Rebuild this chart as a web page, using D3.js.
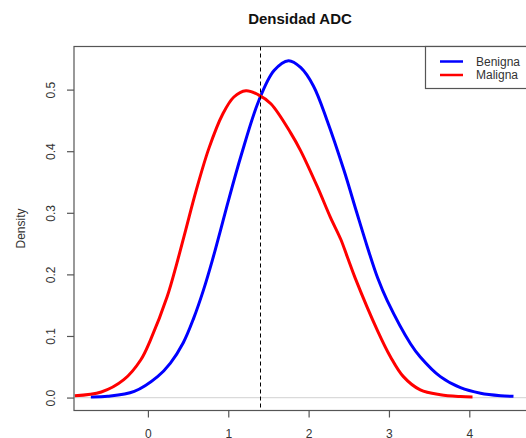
<!DOCTYPE html>
<html>
<head>
<meta charset="utf-8">
<script src="https://cdn.jsdelivr.net/npm/d3@7"></script>
<style>
  html, body { margin: 0; padding: 0; background: #fff; }
  svg { display: block; font-family: "Liberation Sans", Arial, sans-serif; }
</style>
</head>
<body>
<svg id="chart" width="526" height="438"></svg>
<script>
// ---- data ----
const title = "Densidad ADC";
const yLabel = "Density";
const seriesNames = ["Benigna", "Maligna"];
const seriesColors = ["#0000ff", "#ff0000"];
const xTicks = [0, 1, 2, 3, 4];
const yTicks = [0.0, 0.1, 0.2, 0.3, 0.4, 0.5];
const yTickLabels = ["0.0", "0.1", "0.2", "0.3", "0.4", "0.5"];
const cutoff = 1.395;

const benignaX = [-0.71, -0.50, -0.17, 0.12, 0.28, 0.44, 0.57, 0.69, 0.80, 0.90, 0.99, 1.16, 1.38, 1.57, 1.75, 1.90, 2.06, 2.23, 2.44, 2.60, 2.73, 2.86, 2.98, 3.27, 3.39, 3.64, 3.89, 4.14, 4.39, 4.55];
const benignaY = [0.001, 0.002, 0.010, 0.034, 0.056, 0.089, 0.129, 0.174, 0.222, 0.270, 0.314, 0.393, 0.482, 0.531, 0.547, 0.536, 0.506, 0.450, 0.369, 0.300, 0.245, 0.194, 0.157, 0.087, 0.066, 0.034, 0.016, 0.007, 0.003, 0.002];

const malignaX = [-0.91, -0.58, -0.30, -0.09, 0.03, 0.24, 0.36, 0.47, 0.60, 0.76, 0.93, 1.07, 1.22, 1.37, 1.53, 1.78, 1.90, 2.11, 2.27, 2.40, 2.48, 2.58, 2.86, 3.02, 3.18, 3.39, 3.64, 3.89, 4.04];
const malignaY = [0.003, 0.009, 0.029, 0.061, 0.093, 0.164, 0.218, 0.272, 0.336, 0.405, 0.460, 0.488, 0.498, 0.492, 0.477, 0.429, 0.401, 0.342, 0.293, 0.257, 0.229, 0.194, 0.108, 0.066, 0.034, 0.0125, 0.0045, 0.0016, 0.001];

const xDomain = [-0.92, 4.88];
const yDomain = [-0.021, 0.57];

// ---- layout ----
const plot = { left: 74, top: 46.5, right: 540, bottom: 410.5 };
const svg = d3.select("#chart");

const x = d3.scaleLinear().domain(xDomain).range([plot.left, plot.right]);
const y = d3.scaleLinear().domain(yDomain).range([plot.bottom, plot.top]);

svg.append("defs").append("clipPath").attr("id", "clip")
  .append("rect")
  .attr("x", plot.left).attr("y", plot.top)
  .attr("width", plot.right - plot.left).attr("height", plot.bottom - plot.top);

// zero line
svg.append("line")
  .attr("x1", plot.left).attr("x2", plot.right)
  .attr("y1", y(0)).attr("y2", y(0))
  .attr("stroke", "#dadada").attr("stroke-width", 1.2);

// curves
const line = d3.line().x(d => x(d[0])).y(d => y(d[1])).curve(d3.curveCatmullRom.alpha(0.5));
const series = [
  d3.zip(benignaX, benignaY),
  d3.zip(malignaX, malignaY)
];
const g = svg.append("g").attr("clip-path", "url(#clip)");
g.selectAll("path.curve").data(series).join("path")
  .attr("class", "curve")
  .attr("d", line)
  .attr("fill", "none")
  .attr("stroke", (d, i) => seriesColors[i])
  .attr("stroke-width", 3)
  .attr("stroke-linejoin", "round");

// cutoff dashed line
svg.append("line")
  .attr("x1", Math.round(x(cutoff)) + 0.5).attr("x2", Math.round(x(cutoff)) + 0.5)
  .attr("y1", plot.top).attr("y2", plot.bottom)
  .attr("stroke", "#000").attr("stroke-width", 1)
  .attr("stroke-dasharray", "4,3");

// box
svg.append("rect")
  .attr("x", plot.left).attr("y", plot.top)
  .attr("width", plot.right - plot.left).attr("height", plot.bottom - plot.top)
  .attr("fill", "none").attr("stroke", "#555").attr("stroke-width", 1.2);

// x axis
const xAxis = d3.axisBottom(x).tickValues(xTicks).tickSize(7).tickPadding(12)
  .tickFormat(d3.format("d"));
const xg = svg.append("g").attr("transform", `translate(0,${plot.bottom})`).call(xAxis);
xg.select(".domain").remove();
xg.selectAll(".tick line").attr("stroke", "#555").attr("stroke-width", 1.2);
xg.selectAll(".tick text").attr("font-size", 12).attr("fill", "#333")
  .attr("font-family", "Liberation Sans, Arial, sans-serif");

// y axis
const yAxis = d3.axisLeft(y).tickValues(yTicks).tickSize(7).tickFormat((d, i) => yTickLabels[i]);
const yg = svg.append("g").attr("transform", `translate(${plot.left},0)`).call(yAxis);
yg.select(".domain").remove();
yg.selectAll(".tick line").attr("stroke", "#555").attr("stroke-width", 1.2);
yg.selectAll(".tick text")
  .attr("x", 0).attr("dy", null).attr("y", 0)
  .attr("text-anchor", "middle")
  .attr("transform", "translate(-19,0) rotate(-90)")
  .attr("font-size", 12).attr("fill", "#333")
  .attr("font-family", "Liberation Sans, Arial, sans-serif");

// y label
svg.append("text")
  .attr("transform", `translate(25,${(plot.top + plot.bottom) / 2}) rotate(-90)`)
  .attr("text-anchor", "middle")
  .attr("font-size", 12).attr("fill", "#333")
  .text(yLabel);

// title
svg.append("text")
  .attr("x", 300).attr("y", 24)
  .attr("text-anchor", "middle")
  .attr("font-size", 15).attr("font-weight", "bold").attr("fill", "#111")
  .text(title);

// legend
const legend = svg.append("g");
legend.append("rect")
  .attr("x", 425.5).attr("y", plot.top)
  .attr("width", 140).attr("height", 42)
  .attr("fill", "#fff").attr("stroke", "#555").attr("stroke-width", 1.2);
seriesNames.forEach((name, i) => {
  const ly = 61.5 + i * 13.5;
  legend.append("line")
    .attr("x1", 440).attr("x2", 463).attr("y1", ly).attr("y2", ly)
    .attr("stroke", seriesColors[i]).attr("stroke-width", 2.5);
  legend.append("text")
    .attr("x", 476).attr("y", ly + 4)
    .attr("font-size", 12).attr("fill", "#333")
    .text(name);
});
</script>
</body>
</html>
